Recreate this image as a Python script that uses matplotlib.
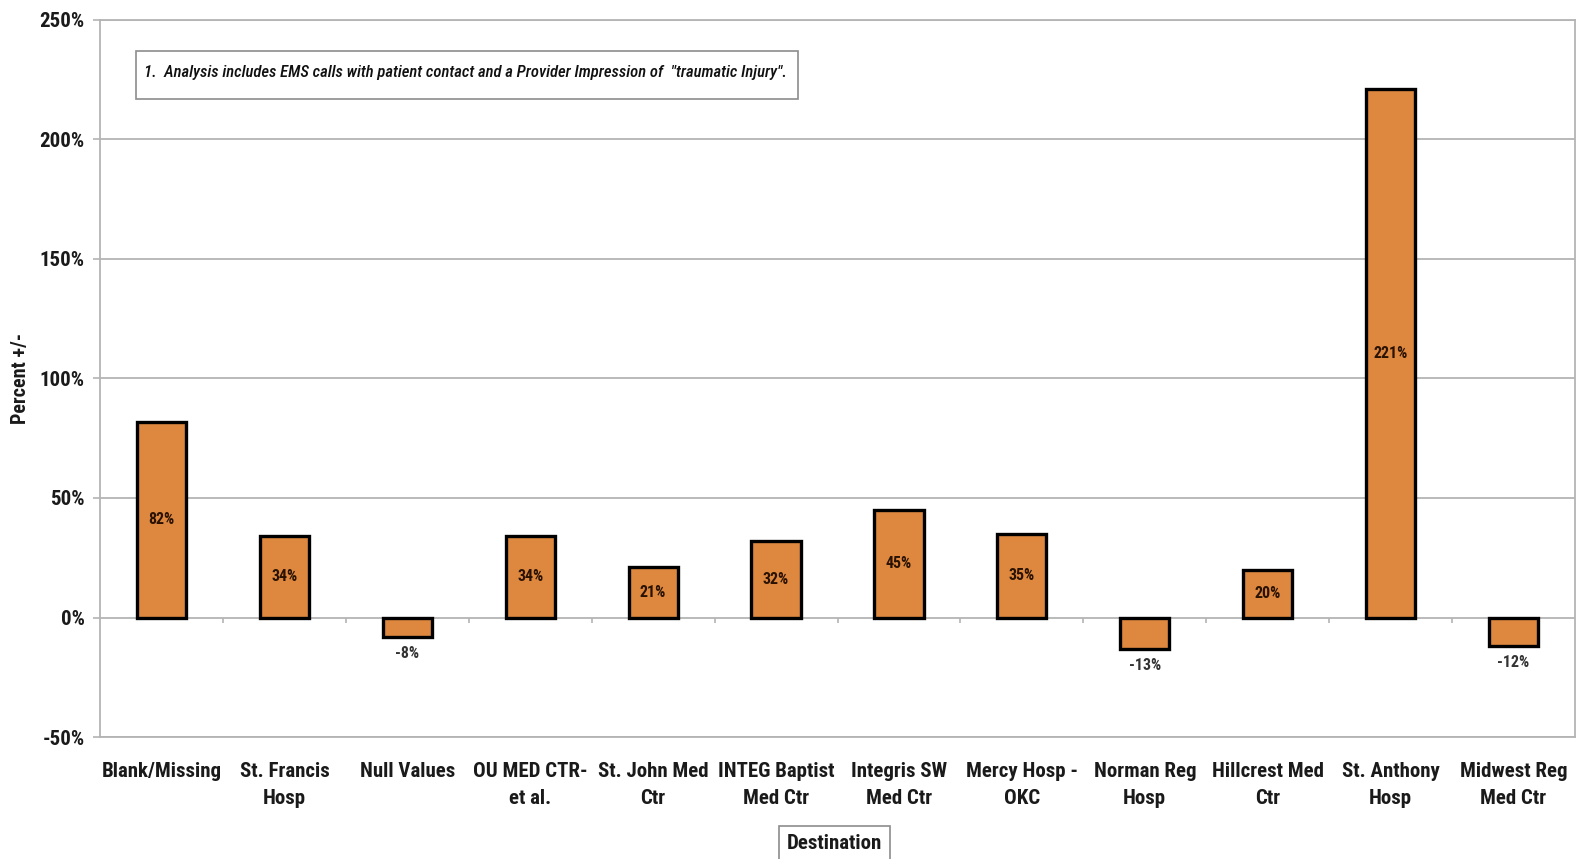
import matplotlib
matplotlib.use("Agg")
import matplotlib.pyplot as plt
from matplotlib.patches import Rectangle
from matplotlib.ticker import FuncFormatter, MultipleLocator

plt.rcParams['font.family'] = ['Roboto Condensed', 'PT Sans Narrow', 'Liberation Sans', 'DejaVu Sans']

destinations = [
    "Blank/Missing", "St. Francis\nHosp", "Null Values", "OU MED CTR-\net al.",
    "St. John Med\nCtr", "INTEG Baptist\nMed Ctr", "Integris SW\nMed Ctr",
    "Mercy Hosp -\nOKC", "Norman Reg\nHosp", "Hillcrest Med\nCtr",
    "St. Anthony\nHosp", "Midwest Reg\nMed Ctr",
]
pct_change = [82, 34, -8, 34, 21, 32, 45, 35, -13, 20, 221, -12]

note_text = ('1.  Analysis includes EMS calls with patient contact and a Provider '
             'Impression of  "traumatic Injury".')

bar_color = "#DD873F"
grid_color = "#B4B4B4"

fig = plt.figure(figsize=(15.85, 8.59), dpi=100)
ax = fig.add_axes([0.0631, 0.142, 0.9306, 0.8348])

x = list(range(len(pct_change)))
ax.bar(x, pct_change, width=0.40, color=bar_color, edgecolor="black",
       linewidth=2.4, zorder=3)

ax.set_xlim(-0.5, len(pct_change) - 0.5)
ax.set_ylim(-50, 250)
ax.yaxis.set_major_locator(MultipleLocator(50))
ax.yaxis.set_major_formatter(FuncFormatter(lambda v, p: f"{v:.0f}%"))
ax.grid(axis="y", color=grid_color, linewidth=1.3, zorder=0)
ax.set_axisbelow(True)

for s in ax.spines.values():
    s.set_color(grid_color)
    s.set_linewidth(1.3)

ax.tick_params(axis="y", length=5, width=1.2, color=grid_color, pad=6,
               labelsize=15)
ax.tick_params(axis="x", length=0, pad=18, labelsize=15)
ax.set_xticks(x)
ax.set_xticklabels(destinations, fontweight="bold", color="#1a1a1a",
                   linespacing=1.55)
for lab in ax.get_yticklabels():
    lab.set_fontweight("bold")
    lab.set_color("#1a1a1a")

# category boundary tick marks on the zero line
ax.vlines([i + 0.5 for i in x[:-1]], -2.5, 0, color=grid_color,
          linewidth=1.2, zorder=2)

# value labels: centred in positive bars, below negative bars
for xi, v in zip(x, pct_change):
    if v >= 0:
        ax.text(xi, v / 2, f"{v}%", ha="center", va="center", fontsize=11.5,
                fontweight="bold", color="#2a1200", zorder=4)
    else:
        ax.annotate(f"{v}%", (xi, v), xytext=(0, -6.5), textcoords="offset points",
                    ha="center", va="top", fontsize=11.5, fontweight="bold",
                    color="#333333", zorder=4)

ax.set_ylabel("Percent +/-", fontsize=14.5, fontweight="bold", labelpad=7,
              color="#1a1a1a")

# note box
ax.add_patch(Rectangle((0.0244, 0.890), 0.449, 0.067, transform=ax.transAxes,
                       facecolor="white", edgecolor="#8c8c8c", linewidth=1.2,
                       zorder=5))
ax.text(0.0295, 0.9265, note_text, transform=ax.transAxes, ha="left",
        va="center", fontsize=12, fontstyle="italic", fontweight="medium",
        color="#111111", zorder=6)

# axis title
fig.text(0.5265, 0.018, "Destination", ha="center", va="center", fontsize=15,
         fontweight="bold", color="#1a1a1a",
         bbox=dict(boxstyle="square,pad=0.4", facecolor="white",
                   edgecolor="#8c8c8c", linewidth=1.2))

fig.savefig("out.png", dpi=100)
